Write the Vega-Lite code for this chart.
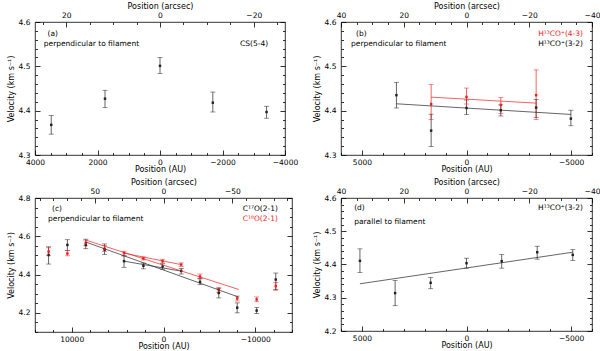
{
 "$schema": "https://vega.github.io/schema/vega-lite/v6.json",
 "autosize": {"type": "pad"},
 "padding": {"left": 6, "top": 1, "right": 0, "bottom": 0},
 "datasets": {
  "a": [
   {"pos": 3480, "v": 4.368, "lo": 4.347, "hi": 4.389, "series": "CS(5-4)"},
   {"pos": 1760, "v": 4.427, "lo": 4.407, "hi": 4.446, "series": "CS(5-4)"},
   {"pos": 0, "v": 4.501, "lo": 4.484, "hi": 4.52, "series": "CS(5-4)"},
   {"pos": -1690, "v": 4.418, "lo": 4.397, "hi": 4.442, "series": "CS(5-4)"},
   {"pos": -3410, "v": 4.397, "lo": 4.383, "hi": 4.41, "series": "CS(5-4)"}
  ],
  "b": [
   {"pos": 3350, "v": 4.435, "lo": 4.406, "hi": 4.464, "series": "H13CO+(3-2)"},
   {"pos": 1690, "v": 4.355, "lo": 4.319, "hi": 4.392, "series": "H13CO+(3-2)"},
   {"pos": 0, "v": 4.406, "lo": 4.391, "hi": 4.424, "series": "H13CO+(3-2)"},
   {"pos": -1640, "v": 4.401, "lo": 4.388, "hi": 4.413, "series": "H13CO+(3-2)"},
   {"pos": -3330, "v": 4.407, "lo": 4.385, "hi": 4.425, "series": "H13CO+(3-2)"},
   {"pos": -4990, "v": 4.382, "lo": 4.366, "hi": 4.401, "series": "H13CO+(3-2)"},
   {"pos": 1690, "v": 4.415, "lo": 4.38, "hi": 4.459, "series": "H13CO+(4-3)"},
   {"pos": 0, "v": 4.431, "lo": 4.415, "hi": 4.451, "series": "H13CO+(4-3)"},
   {"pos": -1640, "v": 4.413, "lo": 4.394, "hi": 4.43, "series": "H13CO+(4-3)"},
   {"pos": -3330, "v": 4.435, "lo": 4.38, "hi": 4.492, "series": "H13CO+(4-3)"}
  ],
  "b_fit": [
   {"pos": 3350, "v": 4.4155, "series": "H13CO+(3-2)", "fit": "b1"},
   {"pos": -4990, "v": 4.3915, "series": "H13CO+(3-2)", "fit": "b1"},
   {"pos": 1690, "v": 4.4305, "series": "H13CO+(4-3)", "fit": "b2"},
   {"pos": -3330, "v": 4.417, "series": "H13CO+(4-3)", "fit": "b2"}
  ],
  "c": [
   {"pos": 12520, "v": 4.502, "lo": 4.455, "hi": 4.545, "series": "C17O(2-1)"},
   {"pos": 10470, "v": 4.555, "lo": 4.525, "hi": 4.582, "series": "C17O(2-1)"},
   {"pos": 8470, "v": 4.555, "lo": 4.535, "hi": 4.585, "series": "C17O(2-1)"},
   {"pos": 6420, "v": 4.53, "lo": 4.505, "hi": 4.56, "series": "C17O(2-1)"},
   {"pos": 4300, "v": 4.47, "lo": 4.438, "hi": 4.497, "series": "C17O(2-1)"},
   {"pos": 2190, "v": 4.446, "lo": 4.43, "hi": 4.46, "series": "C17O(2-1)"},
   {"pos": 100, "v": 4.442, "lo": 4.428, "hi": 4.456, "series": "C17O(2-1)"},
   {"pos": -1930, "v": 4.419, "lo": 4.403, "hi": 4.432, "series": "C17O(2-1)"},
   {"pos": -3980, "v": 4.362, "lo": 4.347, "hi": 4.38, "series": "C17O(2-1)"},
   {"pos": -6020, "v": 4.304, "lo": 4.278, "hi": 4.328, "series": "C17O(2-1)"},
   {"pos": -8030, "v": 4.227, "lo": 4.2, "hi": 4.252, "series": "C17O(2-1)"},
   {"pos": -10150, "v": 4.212, "lo": 4.196, "hi": 4.228, "series": "C17O(2-1)"},
   {"pos": -12230, "v": 4.374, "lo": 4.322, "hi": 4.408, "series": "C17O(2-1)"},
   {"pos": 12520, "v": 4.52, "lo": 4.5, "hi": 4.54, "series": "C18O(2-1)"},
   {"pos": 10470, "v": 4.51, "lo": 4.498, "hi": 4.525, "series": "C18O(2-1)"},
   {"pos": 8470, "v": 4.565, "lo": 4.55, "hi": 4.58, "series": "C18O(2-1)"},
   {"pos": 6420, "v": 4.535, "lo": 4.52, "hi": 4.552, "series": "C18O(2-1)"},
   {"pos": 4300, "v": 4.512, "lo": 4.5, "hi": 4.522, "series": "C18O(2-1)"},
   {"pos": 2190, "v": 4.484, "lo": 4.476, "hi": 4.492, "series": "C18O(2-1)"},
   {"pos": 100, "v": 4.47, "lo": 4.46, "hi": 4.48, "series": "C18O(2-1)"},
   {"pos": -1930, "v": 4.452, "lo": 4.443, "hi": 4.461, "series": "C18O(2-1)"},
   {"pos": -3980, "v": 4.39, "lo": 4.377, "hi": 4.403, "series": "C18O(2-1)"},
   {"pos": -6020, "v": 4.32, "lo": 4.308, "hi": 4.333, "series": "C18O(2-1)"},
   {"pos": -8030, "v": 4.275, "lo": 4.262, "hi": 4.288, "series": "C18O(2-1)"},
   {"pos": -10150, "v": 4.27, "lo": 4.258, "hi": 4.283, "series": "C18O(2-1)"},
   {"pos": -12230, "v": 4.34, "lo": 4.318, "hi": 4.358, "series": "C18O(2-1)"}
  ],
  "c_fit": [
   {"pos": 8470, "v": 4.57, "series": "C17O(2-1)", "fit": "c1"},
   {"pos": -8210, "v": 4.282, "series": "C17O(2-1)", "fit": "c1"},
   {"pos": 4300, "v": 4.47, "series": "C17O(2-1)", "fit": "c3"},
   {"pos": -1930, "v": 4.418, "series": "C17O(2-1)", "fit": "c3"},
   {"pos": 8470, "v": 4.58, "series": "C18O(2-1)", "fit": "c2"},
   {"pos": -8210, "v": 4.322, "series": "C18O(2-1)", "fit": "c2"},
   {"pos": 4300, "v": 4.512, "series": "C18O(2-1)", "fit": "c4"},
   {"pos": -1930, "v": 4.452, "series": "C18O(2-1)", "fit": "c4"}
  ],
  "d": [
   {"pos": 5095, "v": 4.411, "lo": 4.376, "hi": 4.447, "series": "H13CO+(3-2)"},
   {"pos": 3413, "v": 4.314, "lo": 4.276, "hi": 4.352, "series": "H13CO+(3-2)"},
   {"pos": 1714, "v": 4.345, "lo": 4.327, "hi": 4.361, "series": "H13CO+(3-2)"},
   {"pos": 0, "v": 4.404, "lo": 4.389, "hi": 4.419, "series": "H13CO+(3-2)"},
   {"pos": -1683, "v": 4.41, "lo": 4.389, "hi": 4.43, "series": "H13CO+(3-2)"},
   {"pos": -3381, "v": 4.437, "lo": 4.416, "hi": 4.455, "series": "H13CO+(3-2)"},
   {"pos": -5079, "v": 4.429, "lo": 4.412, "hi": 4.445, "series": "H13CO+(3-2)"}
  ],
  "d_fit": [
   {"pos": 5095, "v": 4.342, "series": "H13CO+(3-2)", "fit": "d1"},
   {"pos": -5079, "v": 4.437, "series": "H13CO+(3-2)", "fit": "d1"}
  ]
 },
 "columns": 2,
 "spacing": {"row": 43, "column": 49},
 "bounds": "flush",
 "concat": [
    {
     "width": 250, "height": 133,
     "data": {"name": "a"},
     "layer": [
      {"mark": {"type": "rule", "strokeWidth": 0.7},
       "encoding": {
        "x": {"field": "pos", "type": "quantitative", "scale": {"domain": [-4000, 4000], "reverse": true, "nice": false, "zero": false}, "axis": {"orient": "bottom", "title": "Position (AU)", "values": [4000, 2000, 0, -2000, -4000], "format": "d", "tickSize": -5, "labelPadding": 8}},
        "y": {"field": "lo", "type": "quantitative", "scale": {"domain": [4.3, 4.6], "nice": false, "zero": false}, "axis": {"orient": "left", "title": "Velocity (km s⁻¹)", "values": [4.3, 4.4, 4.5, 4.6], "format": ".1f", "tickSize": -5, "labelPadding": 10}},
        "y2": {"field": "hi"},
        "color": {"field": "series", "type": "nominal", "scale": {"domain": ["CS(5-4)", "H13CO+(3-2)", "H13CO+(4-3)", "C17O(2-1)", "C18O(2-1)"], "range": ["#222222", "#222222", "#f01e1e", "#222222", "#f01e1e"]}, "legend": null}
       }},
      {"mark": {"type": "tick", "orient": "horizontal", "size": 5, "thickness": 0.7},
       "encoding": {
        "x": {"field": "pos", "type": "quantitative", "scale": {"domain": [-4000, 4000], "reverse": true, "nice": false, "zero": false}, "axis": {"orient": "top", "title": "Position (arcsec)", "values": [3000, 0, -3000], "labelExpr": "format(datum.value/150,'d')", "tickSize": -5, "labelPadding": 8}},
        "y": {"field": "lo", "type": "quantitative", "scale": {"domain": [4.3, 4.6], "nice": false, "zero": false}, "axis": {"orient": "right", "title": null, "labels": false, "values": [4.3, 4.4, 4.5, 4.6], "tickSize": -5}},
        "color": {"field": "series", "type": "nominal", "legend": null}
       }},
      {"mark": {"type": "tick", "orient": "horizontal", "size": 5, "thickness": 0.7},
       "encoding": {
        "x": {"field": "pos", "type": "quantitative", "scale": {"domain": [-4000, 4000], "reverse": true, "nice": false, "zero": false}, "axis": {"orient": "bottom", "title": null, "labels": false, "values": [3500, 3000, 2500, 1500, 1000, 500, -500, -1000, -1500, -2500, -3000, -3500], "tickSize": -2.5}},
        "y": {"field": "hi", "type": "quantitative", "scale": {"domain": [4.3, 4.6], "nice": false, "zero": false}, "axis": {"orient": "left", "title": null, "labels": false, "values": [4.32, 4.34, 4.36, 4.38, 4.42, 4.44, 4.46, 4.48, 4.52, 4.54, 4.56, 4.58], "tickSize": -2.5}},
        "color": {"field": "series", "type": "nominal", "legend": null}
       }},
      {"mark": {"type": "square", "size": 6, "opacity": 1},
       "encoding": {
        "x": {"field": "pos", "type": "quantitative", "scale": {"domain": [-4000, 4000], "reverse": true, "nice": false, "zero": false}, "axis": {"orient": "top", "title": null, "labels": false, "values": [3750, 2250, 1500, 750, -750, -1500, -2250, -3750], "tickSize": -2.5}},
        "y": {"field": "v", "type": "quantitative", "scale": {"domain": [4.3, 4.6], "nice": false, "zero": false}, "axis": {"orient": "right", "title": null, "labels": false, "values": [4.32, 4.34, 4.36, 4.38, 4.42, 4.44, 4.46, 4.48, 4.52, 4.54, 4.56, 4.58], "tickSize": -2.5}},
        "color": {"field": "series", "type": "nominal", "legend": null}
       }},
      {"data": {"values": [{}]}, "mark": {"type": "text", "text": "(a)", "align": "left", "baseline": "middle"},
       "encoding": {"x": {"datum": 3600, "type": "quantitative", "axis": null}, "y": {"datum": 4.573, "type": "quantitative", "axis": null}}},
      {"data": {"values": [{}]}, "mark": {"type": "text", "text": "perpendicular to filament", "align": "left", "baseline": "middle"},
       "encoding": {"x": {"datum": 3720, "type": "quantitative", "axis": null}, "y": {"datum": 4.55, "type": "quantitative", "axis": null}}},
      {"data": {"values": [{}]}, "mark": {"type": "text", "text": "CS(5-4)", "align": "right", "baseline": "middle"},
       "encoding": {"x": {"datum": -3460, "type": "quantitative", "axis": null}, "y": {"datum": 4.55, "type": "quantitative", "axis": null}}}
     ],
     "resolve": {"axis": {"x": "independent", "y": "independent"}}
    },
    {
     "width": 251, "height": 133,
     "data": {"name": "b"},
     "layer": [
      {"mark": {"type": "rule", "strokeWidth": 0.7},
       "encoding": {
        "x": {"field": "pos", "type": "quantitative", "scale": {"domain": [-6000, 6000], "reverse": true, "nice": false, "zero": false}, "axis": {"orient": "bottom", "title": "Position (AU)", "values": [5000, 0, -5000], "format": "d", "tickSize": -5, "labelPadding": 8}},
        "y": {"field": "lo", "type": "quantitative", "scale": {"domain": [4.3, 4.6], "nice": false, "zero": false}, "axis": {"orient": "left", "title": "Velocity (km s⁻¹)", "values": [4.3, 4.4, 4.5, 4.6], "format": ".1f", "tickSize": -5, "labelPadding": 10}},
        "y2": {"field": "hi"},
        "color": {"field": "series", "type": "nominal", "legend": null}
       }},
      {"mark": {"type": "tick", "orient": "horizontal", "size": 5, "thickness": 0.7},
       "encoding": {
        "x": {"field": "pos", "type": "quantitative", "scale": {"domain": [-6000, 6000], "reverse": true, "nice": false, "zero": false}, "axis": {"orient": "top", "title": "Position (arcsec)", "values": [6000, 3000, 0, -3000, -6000], "labelExpr": "format(datum.value/150,'d')", "tickSize": -5, "labelPadding": 8}},
        "y": {"field": "lo", "type": "quantitative", "scale": {"domain": [4.3, 4.6], "nice": false, "zero": false}, "axis": {"orient": "right", "title": null, "labels": false, "values": [4.3, 4.4, 4.5, 4.6], "tickSize": -5}},
        "color": {"field": "series", "type": "nominal", "legend": null}
       }},
      {"mark": {"type": "tick", "orient": "horizontal", "size": 5, "thickness": 0.7},
       "encoding": {
        "x": {"field": "pos", "type": "quantitative", "scale": {"domain": [-6000, 6000], "reverse": true, "nice": false, "zero": false}, "axis": {"orient": "bottom", "title": null, "labels": false, "values": [6000, 4000, 3000, 2000, 1000, -1000, -2000, -3000, -4000, -6000], "tickSize": -2.5}},
        "y": {"field": "hi", "type": "quantitative", "scale": {"domain": [4.3, 4.6], "nice": false, "zero": false}, "axis": {"orient": "left", "title": null, "labels": false, "values": [4.32, 4.34, 4.36, 4.38, 4.42, 4.44, 4.46, 4.48, 4.52, 4.54, 4.56, 4.58], "tickSize": -2.5}},
        "color": {"field": "series", "type": "nominal", "legend": null}
       }},
      {"mark": {"type": "square", "size": 6, "opacity": 1},
       "encoding": {
        "x": {"field": "pos", "type": "quantitative", "scale": {"domain": [-6000, 6000], "reverse": true, "nice": false, "zero": false}, "axis": {"orient": "top", "title": null, "labels": false, "values": [5250, 4500, 3750, 2250, 1500, 750, -750, -1500, -2250, -3750, -4500, -5250], "tickSize": -2.5}},
        "y": {"field": "v", "type": "quantitative", "scale": {"domain": [4.3, 4.6], "nice": false, "zero": false}, "axis": {"orient": "right", "title": null, "labels": false, "values": [4.32, 4.34, 4.36, 4.38, 4.42, 4.44, 4.46, 4.48, 4.52, 4.54, 4.56, 4.58], "tickSize": -2.5}},
        "color": {"field": "series", "type": "nominal", "legend": null}
       }},
      {"data": {"name": "b_fit"}, "mark": {"type": "line", "strokeWidth": 0.7},
       "encoding": {
        "x": {"field": "pos", "type": "quantitative", "axis": null},
        "y": {"field": "v", "type": "quantitative", "axis": null},
        "detail": {"field": "fit"},
        "color": {"field": "series", "type": "nominal", "legend": null}
       }},
      {"data": {"values": [{}]}, "mark": {"type": "text", "text": "(b)", "align": "left", "baseline": "middle"},
       "encoding": {"x": {"datum": 5280, "type": "quantitative", "axis": null}, "y": {"datum": 4.573, "type": "quantitative", "axis": null}}},
      {"data": {"values": [{}]}, "mark": {"type": "text", "text": "perpendicular to filament", "align": "left", "baseline": "middle"},
       "encoding": {"x": {"datum": 5520, "type": "quantitative", "axis": null}, "y": {"datum": 4.55, "type": "quantitative", "axis": null}}},
      {"data": {"values": [{}]}, "mark": {"type": "text", "text": "H¹³CO⁺(4-3)", "align": "right", "baseline": "middle", "color": "#f01e1e"},
       "encoding": {"x": {"datum": -5570, "type": "quantitative", "axis": null}, "y": {"datum": 4.573, "type": "quantitative", "axis": null}}},
      {"data": {"values": [{}]}, "mark": {"type": "text", "text": "H¹³CO⁺(3-2)", "align": "right", "baseline": "middle"},
       "encoding": {"x": {"datum": -5570, "type": "quantitative", "axis": null}, "y": {"datum": 4.55, "type": "quantitative", "axis": null}}}
     ],
     "resolve": {"axis": {"x": "independent", "y": "independent"}}
    },
    {
     "width": 257, "height": 134,
     "data": {"name": "c"},
     "layer": [
      {"mark": {"type": "rule", "strokeWidth": 0.7},
       "encoding": {
        "x": {"field": "pos", "type": "quantitative", "scale": {"domain": [-14000, 14000], "reverse": true, "nice": false, "zero": false}, "axis": {"orient": "bottom", "title": "Position (AU)", "values": [10000, 0, -10000], "format": "d", "tickSize": -5, "labelPadding": 8}},
        "y": {"field": "lo", "type": "quantitative", "scale": {"domain": [4.1, 4.8], "nice": false, "zero": false}, "axis": {"orient": "left", "title": "Velocity (km s⁻¹)", "values": [4.2, 4.4, 4.6, 4.8], "format": ".1f", "tickSize": -5, "labelPadding": 10}},
        "y2": {"field": "hi"},
        "color": {"field": "series", "type": "nominal", "legend": null}
       }},
      {"mark": {"type": "tick", "orient": "horizontal", "size": 5, "thickness": 0.7},
       "encoding": {
        "x": {"field": "pos", "type": "quantitative", "scale": {"domain": [-14000, 14000], "reverse": true, "nice": false, "zero": false}, "axis": {"orient": "top", "title": "Position (arcsec)", "values": [7500, 0, -7500], "labelExpr": "format(datum.value/150,'d')", "tickSize": -5, "labelPadding": 8}},
        "y": {"field": "lo", "type": "quantitative", "scale": {"domain": [4.1, 4.8], "nice": false, "zero": false}, "axis": {"orient": "right", "title": null, "labels": false, "values": [4.2, 4.4, 4.6, 4.8], "tickSize": -5}},
        "color": {"field": "series", "type": "nominal", "legend": null}
       }},
      {"mark": {"type": "tick", "orient": "horizontal", "size": 5, "thickness": 0.7},
       "encoding": {
        "x": {"field": "pos", "type": "quantitative", "scale": {"domain": [-14000, 14000], "reverse": true, "nice": false, "zero": false}, "axis": {"orient": "bottom", "title": null, "labels": false, "values": [14000, 12000, 8000, 6000, 4000, 2000, -2000, -4000, -6000, -8000, -12000, -14000], "tickSize": -2.5}},
        "y": {"field": "hi", "type": "quantitative", "scale": {"domain": [4.1, 4.8], "nice": false, "zero": false}, "axis": {"orient": "left", "title": null, "labels": false, "values": [4.1, 4.15, 4.25, 4.3, 4.35, 4.45, 4.5, 4.55, 4.65, 4.7, 4.75], "tickSize": -2.5}},
        "color": {"field": "series", "type": "nominal", "legend": null}
       }},
      {"mark": {"type": "square", "size": 6, "opacity": 1},
       "encoding": {
        "x": {"field": "pos", "type": "quantitative", "scale": {"domain": [-14000, 14000], "reverse": true, "nice": false, "zero": false}, "axis": {"orient": "top", "title": null, "labels": false, "values": [13500, 12000, 10500, 9000, 6000, 4500, 3000, 1500, -1500, -3000, -4500, -6000, -9000, -10500, -12000, -13500], "tickSize": -2.5}},
        "y": {"field": "v", "type": "quantitative", "scale": {"domain": [4.1, 4.8], "nice": false, "zero": false}, "axis": {"orient": "right", "title": null, "labels": false, "values": [4.1, 4.15, 4.25, 4.3, 4.35, 4.45, 4.5, 4.55, 4.65, 4.7, 4.75], "tickSize": -2.5}},
        "color": {"field": "series", "type": "nominal", "legend": null}
       }},
      {"data": {"name": "c_fit"}, "mark": {"type": "line", "strokeWidth": 0.7},
       "encoding": {
        "x": {"field": "pos", "type": "quantitative", "axis": null},
        "y": {"field": "v", "type": "quantitative", "axis": null},
        "detail": {"field": "fit"},
        "color": {"field": "series", "type": "nominal", "legend": null}
       }},
      {"data": {"values": [{}]}, "mark": {"type": "text", "text": "(c)", "align": "left", "baseline": "middle"},
       "encoding": {"x": {"datum": 12150, "type": "quantitative", "axis": null}, "y": {"datum": 4.743, "type": "quantitative", "axis": null}}},
      {"data": {"values": [{}]}, "mark": {"type": "text", "text": "perpendicular to filament", "align": "left", "baseline": "middle"},
       "encoding": {"x": {"datum": 12580, "type": "quantitative", "axis": null}, "y": {"datum": 4.69, "type": "quantitative", "axis": null}}},
      {"data": {"values": [{}]}, "mark": {"type": "text", "text": "C¹⁷O(2-1)", "align": "right", "baseline": "middle"},
       "encoding": {"x": {"datum": -12470, "type": "quantitative", "axis": null}, "y": {"datum": 4.743, "type": "quantitative", "axis": null}}},
      {"data": {"values": [{}]}, "mark": {"type": "text", "text": "C¹⁸O(2-1)", "align": "right", "baseline": "middle", "color": "#f01e1e"},
       "encoding": {"x": {"datum": -12470, "type": "quantitative", "axis": null}, "y": {"datum": 4.69, "type": "quantitative", "axis": null}}}
     ],
     "resolve": {"axis": {"x": "independent", "y": "independent"}}
    },
    {
     "width": 251, "height": 133,
     "data": {"name": "d"},
     "layer": [
      {"mark": {"type": "rule", "strokeWidth": 0.7},
       "encoding": {
        "x": {"field": "pos", "type": "quantitative", "scale": {"domain": [-6000, 6000], "reverse": true, "nice": false, "zero": false}, "axis": {"orient": "bottom", "title": "Position (AU)", "values": [5000, 0, -5000], "format": "d", "tickSize": -5, "labelPadding": 8}},
        "y": {"field": "lo", "type": "quantitative", "scale": {"domain": [4.2, 4.6], "nice": false, "zero": false}, "axis": {"orient": "left", "title": "Velocity (km s⁻¹)", "values": [4.2, 4.3, 4.4, 4.5, 4.6], "format": ".1f", "tickSize": -5, "labelPadding": 10}},
        "y2": {"field": "hi"},
        "color": {"field": "series", "type": "nominal", "legend": null}
       }},
      {"mark": {"type": "tick", "orient": "horizontal", "size": 5, "thickness": 0.7},
       "encoding": {
        "x": {"field": "pos", "type": "quantitative", "scale": {"domain": [-6000, 6000], "reverse": true, "nice": false, "zero": false}, "axis": {"orient": "top", "title": "Position (arcsec)", "values": [6000, 3000, 0, -3000, -6000], "labelExpr": "format(datum.value/150,'d')", "tickSize": -5, "labelPadding": 8}},
        "y": {"field": "lo", "type": "quantitative", "scale": {"domain": [4.2, 4.6], "nice": false, "zero": false}, "axis": {"orient": "right", "title": null, "labels": false, "values": [4.2, 4.3, 4.4, 4.5, 4.6], "tickSize": -5}},
        "color": {"field": "series", "type": "nominal", "legend": null}
       }},
      {"mark": {"type": "tick", "orient": "horizontal", "size": 5, "thickness": 0.7},
       "encoding": {
        "x": {"field": "pos", "type": "quantitative", "scale": {"domain": [-6000, 6000], "reverse": true, "nice": false, "zero": false}, "axis": {"orient": "bottom", "title": null, "labels": false, "values": [6000, 4000, 3000, 2000, 1000, -1000, -2000, -3000, -4000, -6000], "tickSize": -2.5}},
        "y": {"field": "hi", "type": "quantitative", "scale": {"domain": [4.2, 4.6], "nice": false, "zero": false}, "axis": {"orient": "left", "title": null, "labels": false, "values": [4.22, 4.24, 4.26, 4.28, 4.32, 4.34, 4.36, 4.38, 4.42, 4.44, 4.46, 4.48, 4.52, 4.54, 4.56, 4.58], "tickSize": -2.5}},
        "color": {"field": "series", "type": "nominal", "legend": null}
       }},
      {"mark": {"type": "square", "size": 6, "opacity": 1},
       "encoding": {
        "x": {"field": "pos", "type": "quantitative", "scale": {"domain": [-6000, 6000], "reverse": true, "nice": false, "zero": false}, "axis": {"orient": "top", "title": null, "labels": false, "values": [5250, 4500, 3750, 2250, 1500, 750, -750, -1500, -2250, -3750, -4500, -5250], "tickSize": -2.5}},
        "y": {"field": "v", "type": "quantitative", "scale": {"domain": [4.2, 4.6], "nice": false, "zero": false}, "axis": {"orient": "right", "title": null, "labels": false, "values": [4.22, 4.24, 4.26, 4.28, 4.32, 4.34, 4.36, 4.38, 4.42, 4.44, 4.46, 4.48, 4.52, 4.54, 4.56, 4.58], "tickSize": -2.5}},
        "color": {"field": "series", "type": "nominal", "legend": null}
       }},
      {"data": {"name": "d_fit"}, "mark": {"type": "line", "strokeWidth": 0.7},
       "encoding": {
        "x": {"field": "pos", "type": "quantitative", "axis": null},
        "y": {"field": "v", "type": "quantitative", "axis": null},
        "detail": {"field": "fit"},
        "color": {"field": "series", "type": "nominal", "legend": null}
       }},
      {"data": {"values": [{}]}, "mark": {"type": "text", "text": "(d)", "align": "left", "baseline": "middle"},
       "encoding": {"x": {"datum": 5370, "type": "quantitative", "axis": null}, "y": {"datum": 4.571, "type": "quantitative", "axis": null}}},
      {"data": {"values": [{}]}, "mark": {"type": "text", "text": "parallel to filament", "align": "left", "baseline": "middle"},
       "encoding": {"x": {"datum": 5370, "type": "quantitative", "axis": null}, "y": {"datum": 4.528, "type": "quantitative", "axis": null}}},
      {"data": {"values": [{}]}, "mark": {"type": "text", "text": "H¹³CO⁺(3-2)", "align": "right", "baseline": "middle"},
       "encoding": {"x": {"datum": -5566, "type": "quantitative", "axis": null}, "y": {"datum": 4.571, "type": "quantitative", "axis": null}}}
     ],
     "resolve": {"axis": {"x": "independent", "y": "independent"}}
    }
 ],
 "config": {
  "view": {"stroke": "#000000", "strokeWidth": 0.8},
  "axis": {"domain": false, "grid": false, "tickColor": "#000000", "tickWidth": 0.8, "labelFont": "DejaVu Sans", "labelFontSize": 7.5, "labelColor": "#000000", "labelFlush": false, "labelOverlap": false, "titleFont": "DejaVu Sans", "titleFontSize": 8, "titleFontWeight": "normal", "titleColor": "#000000", "titlePadding": 1},
  "axisLeft": {"titlePadding": 3},
  "axisBottom": {"titlePadding": 0},
  "text": {"font": "DejaVu Sans", "fontSize": 7.5, "color": "#000000"}
 }
}
